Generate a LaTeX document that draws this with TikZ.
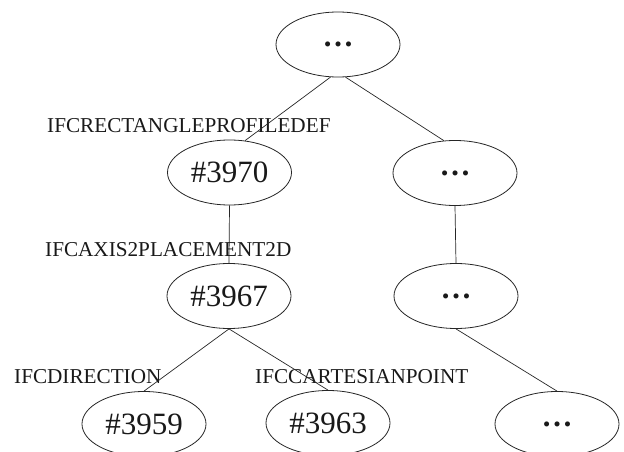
\documentclass[tikz,border=0pt]{standalone}
\usepackage{fontspec}
\setmainfont{Liberation Serif}
\usetikzlibrary{shapes.geometric}

\tikzset{
  entity/.style={ellipse, draw=black!85, line width=0.8pt, inner sep=0pt,
    minimum width=124pt, minimum height=65pt,
    font=\fontsize{31}{36}\selectfont, text=black!90},
  elided/.style={entity, font=\fontsize{31}{36}\selectfont\bfseries},
  typelabel/.style={anchor=base west, inner sep=0pt,
    font=\fontsize{21.2}{25}\selectfont, text=black!90},
  link/.style={draw=black!85, line width=0.7pt}
}

\begin{document}
\begin{tikzpicture}[x=1pt, y=-1pt]
  \useasboundingbox (0,0) rectangle (624,452);

  % entity instances
  \node[elided] (root)  at (338,44.5)  {…};
  \node[entity] (e3970) at (229.5,172.5) {\#3970};
  \node[elided] (r1)    at (455,173)   {…};
  \node[entity] (e3967) at (229,296)   {\#3967};
  \node[elided] (r2)    at (456,296)   {…};
  \node[entity] (e3959) at (144,424)   {\#3959};
  \node[entity] (e3963) at (328,423)   {\#3963};
  \node[elided] (r3)    at (557,424)   {…};

  % entity type names
  \node[typelabel] (t1) at (47,132)  {IFCRECTANGLEPROFILEDEF};
  \node[typelabel] (t2) at (45,256)  {IFCAXIS2PLACEMENT2D};
  \node[typelabel] (t3) at (14,383)  {IFCDIRECTION};
  \node[typelabel] (t4) at (255,383) {IFCCARTESIANPOINT};

  % references
  \draw[link] (root.257) -- (e3970.64);
  \draw[link] (root.283) -- (r1.109);
  \draw[link] (e3970.south) -- (e3967.north);
  \draw[link] (r1.south) -- (r2.north);
  \draw[link] (e3967.south) -- (e3959.north);
  \draw[link] (e3967.south) -- (e3963.north);
  \draw[link] (r2.south) -- (r3.north);
\end{tikzpicture}
\end{document}
